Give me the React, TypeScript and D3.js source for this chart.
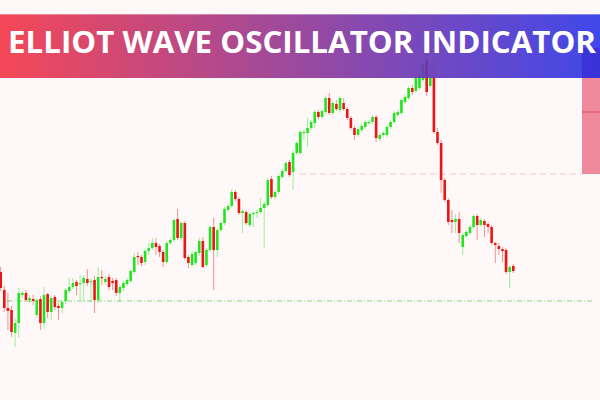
import React from "react";
import * as d3 from "d3";

const W = 600;
const H = 400;

// price in chart points (higher = up)
const opens = [128,110,92,90,67,77,105,107,100,101,85,101,77,106,88,103,94,92,99,109,113,118,116,117,121,118,120,100,123,118,123,119,120,107,112,116,119,128,144,143,138,149,152,157,154,148,138,157,160,181,162,177,143,135,137,147,159,135,150,173,150,170,177,190,194,208,201,187,188,175,186,187,188,192,195,221,203,208,223,229,238,228,247,247,267,267,272,277,288,283,288,302,287,296,290,297,291,282,272,265,270,273,277,278,283,261,265,265,273,278,285,287,298,302,312,309,312,320,340,314,323,268,257,220,200,180,178,181,153,164,167,173,184,175,179,176,173,157,154,151,150,128,134];
const highs = [133,114,107,94,82,112,109,110,105,105,102,104,113,107,104,105,97,100,112,122,122,120,125,125,131,122,124,133,130,124,126,122,122,115,119,122,131,147,148,145,151,157,162,162,156,150,159,162,182,191,179,179,145,149,150,162,163,152,175,182,172,179,193,196,211,210,203,191,190,188,189,190,202,198,222,224,210,226,231,239,240,249,259,270,271,282,280,290,290,291,304,307,299,300,304,302,293,284,274,273,276,280,280,285,285,267,269,275,280,289,290,302,305,314,315,324,327,340,342,332,335,272,260,222,202,190,186,188,167,170,175,186,186,182,181,178,175,158,157,153,152,135,136];
const lows = [109,88,70,63,53,63,102,98,97,95,82,70,71,82,80,90,80,87,96,107,111,105,100,98,114,98,87,97,115,115,110,110,104,98,109,114,117,126,135,134,135,145,150,145,143,133,136,155,158,160,159,140,132,133,135,144,132,133,148,110,143,168,175,188,192,199,185,167,175,173,173,182,186,152,193,201,201,206,221,227,223,210,245,245,260,253,270,272,281,281,286,285,285,289,288,289,280,270,260,263,268,271,275,276,258,259,263,263,271,276,283,285,296,300,305,307,310,318,304,312,266,255,207,198,175,167,167,157,145,162,165,171,160,173,163,167,155,137,145,138,126,112,127];
const closes = [112,92,89,68,77,107,107,100,102,99,100,77,105,88,102,93,92,98,110,113,117,114,117,122,117,119,100,123,122,121,113,117,107,113,117,120,129,143,143,137,149,152,157,153,148,138,157,160,180,162,177,142,137,146,148,159,133,150,173,150,170,177,191,194,208,201,187,189,177,186,187,188,192,196,220,203,208,224,229,237,225,247,257,268,268,272,278,288,283,289,302,287,297,291,302,291,282,272,265,271,274,278,278,283,262,265,267,273,278,287,288,300,303,312,308,322,325,335,308,322,268,257,220,200,178,178,181,167,165,168,173,184,175,180,175,173,157,155,151,149,128,133,129];

// horizontal levels (chart points)
const resistanceLevel = 226;
const supportLevel = 99;
const zoneTop = 352;
const zoneMid = 288;
const zoneBottom = 226;

const title = "ELLIOT WAVE OSCILLATOR INDICATOR";

const UP = "#1fe61f";
const DOWN = "#ec1414";

export default function App() {
  const x = d3.scaleLinear().domain([0, opens.length - 1]).range([0.7, 513.3]);
  const y = d3.scaleLinear().domain([0, 400]).range([H, 0]);
  const bodyW = 2.6;

  return (
    <svg
      width={W}
      height={H}
      style={{ position: "absolute", left: 0, top: 0, display: "block" }}
    >
      <defs>
        <linearGradient id="bannerGrad" x1="0" x2="1" y1="0" y2="0">
          <stop offset="0%" stopColor="#f43445" />
          <stop offset="50%" stopColor="#8f3695" />
          <stop offset="100%" stopColor="#2b34e8" />
        </linearGradient>
      </defs>
      <rect x={0} y={0} width={W} height={H} fill="#fff8f8" />

      {/* right zone */}
      <rect
        x={582}
        y={y(zoneTop)}
        width={W - 582}
        height={y(zoneBottom) - y(zoneTop)}
        fill="#ee8a9b"
      />
      <line x1={582} x2={W} y1={y(zoneMid)} y2={y(zoneMid)} stroke="#e0506a" strokeWidth={1} />

      {/* levels */}
      <line
        x1={300}
        x2={582}
        y1={y(resistanceLevel)}
        y2={y(resistanceLevel)}
        stroke="#f2c2ca"
        strokeWidth={1}
        strokeDasharray="6,4"
      />
      <line
        x1={7}
        x2={592}
        y1={y(supportLevel)}
        y2={y(supportLevel)}
        stroke="#7fd97f"
        strokeWidth={1}
        strokeDasharray="5,2,1,2"
      />

      {/* candles */}
      {opens.map((o, i) => {
        const c = closes[i];
        const up = c >= o;
        const col = up ? UP : DOWN;
        const cx = x(i);
        const top = y(Math.max(o, c));
        const bot = y(Math.min(o, c));
        return (
          <g key={i}>
            <line
              x1={cx}
              x2={cx}
              y1={y(highs[i])}
              y2={y(lows[i])}
              stroke={col}
              strokeOpacity={0.45}
              strokeWidth={1}
            />
            <rect
              x={cx - bodyW / 2}
              y={top}
              width={bodyW}
              height={Math.max(1.2, bot - top)}
              fill={col}
            />
          </g>
        );
      })}

      {/* banner */}
      <rect x={0} y={14} width={W} height={64} fill="url(#bannerGrad)" opacity={0.9} />
      <rect x={582} y={48} width={W - 582} height={30} fill="#3a30d6" opacity={0.85} />
      <line x1={0} x2={W} y1={14.5} y2={14.5} stroke="#ffffff" strokeOpacity={0.35} />
      <text
        x={8}
        y={53}
        fill="#ffffff"
        fontFamily="'Open Sans', 'Noto Sans', sans-serif"
        fontWeight={700}
        fontSize={31}
        textLength={588}
        lengthAdjust="spacingAndGlyphs"
      >
        {title}
      </text>
    </svg>
  );
}
